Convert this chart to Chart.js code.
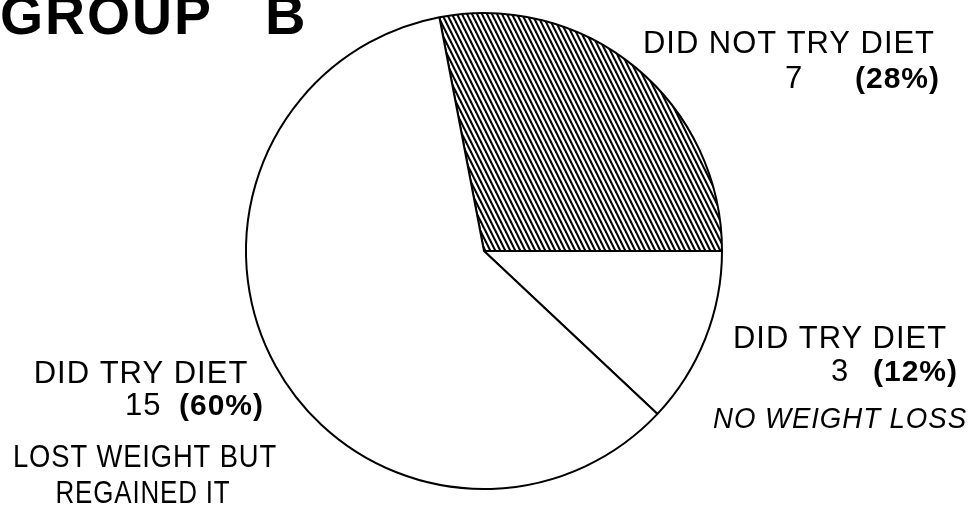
<!DOCTYPE html>
<html>
<head>
<meta charset="utf-8">
<script src="https://cdn.jsdelivr.net/npm/chart.js@4/dist/chart.umd.min.js"></script>
<style>
  html, body { margin: 0; padding: 0; background: #fff; }
  canvas { display: block; }
</style>
</head>
<body>
<canvas id="dietPie" width="976" height="509"></canvas>
<script>
// Group B answers, in the order the slices are drawn clockwise from 3 o'clock back round
const groups = ['DID NOT TRY DIET', 'DID TRY DIET', 'DID TRY DIET'];
const notes = ['', 'NO WEIGHT LOSS', 'LOST WEIGHT BUT|REGAINED IT'];
const counts = [7, 3, 15];

const total = counts.reduce((a, b) => a + b, 0);
const pct = counts.map(c => Math.round(c / total * 100));

// diagonal hatch for the first slice
function hatch() {
    const tile = document.createElement('canvas');
    tile.width = 5;
    tile.height = 10;
    const t = tile.getContext('2d');
    t.fillStyle = '#fff';
    t.fillRect(0, 0, 5, 10);
    t.strokeStyle = '#000';
    t.lineWidth = 2.1;
    for (let k = -2; k <= 2; k++) {
        t.beginPath();
        t.moveTo(k * 5 - 5, -10);
        t.lineTo(k * 5 + 10, 20);
        t.stroke();
    }
    return t.createPattern(tile, 'repeat');
}

const ctx = document.getElementById('dietPie').getContext('2d');

const labelPlugin = {
    id: 'sliceLabels',
    afterDraw(chart) {
        const c = chart.ctx;
        c.save();
        c.fillStyle = '#000';
        c.textBaseline = 'alphabetic';

        // title
        c.font = 'bold 56px "Liberation Sans", Arial, sans-serif';
        c.letterSpacing = '2px';
        c.textAlign = 'left';
        c.fillText('GROUP', 0, 34, 213);
        c.fillText('B', 265, 34);

        const plain = '31px "Liberation Sans", Arial, sans-serif';
        const bold = 'bold 30px "Liberation Sans", Arial, sans-serif';
        c.letterSpacing = '1px';

        function centered(text, font, x, y, w) {
            c.font = font;
            c.textAlign = 'center';
            c.fillText(text, x, y, w);
        }

        // count line: number, then bold percentage ending at right edge
        function countLine(i, numX, right, y) {
            c.font = plain;
            c.textAlign = 'left';
            c.fillText(String(counts[i]), numX, y);
            c.font = bold;
            c.textAlign = 'right';
            c.fillText('(' + pct[i] + '%)', right, y);
        }

        // slice 0: top right
        centered(groups[0], plain, 789, 53, 292);
        countLine(0, 785, 940, 88);

        // slice 1: lower right
        centered(groups[1], plain, 840, 348, 214);
        countLine(1, 831, 958, 381);
        centered(notes[1], 'italic 30px "Liberation Sans", Arial, sans-serif', 840, 428, 254);

        // slice 2: lower left
        centered(groups[2], plain, 141, 383, 215);
        countLine(2, 125, 264, 415);
        const lines = notes[2].split('|');
        centered(lines[0], plain, 145, 467, 264);
        centered(lines[1], plain, 143, 503, 175);

        c.restore();
    }
};

new Chart(ctx, {
    type: 'pie',
    data: {
        labels: groups,
        datasets: [{
            data: counts,
            backgroundColor: [hatch(), '#fff', '#fff'],
            borderColor: '#000',
            borderWidth: 2,
            borderAlign: 'center',
            hoverOffset: 0
        }]
    },
    options: {
        responsive: false,
        animation: false,
        // first slice ends at 3 o'clock
        rotation: 90 - counts[0] / total * 360,
        layout: { padding: { left: 245, right: 253, top: 12, bottom: 19 } },
        plugins: {
            legend: { display: false },
            tooltip: { enabled: false }
        },
        events: []
    },
    plugins: [labelPlugin]
});
</script>
</body>
</html>
